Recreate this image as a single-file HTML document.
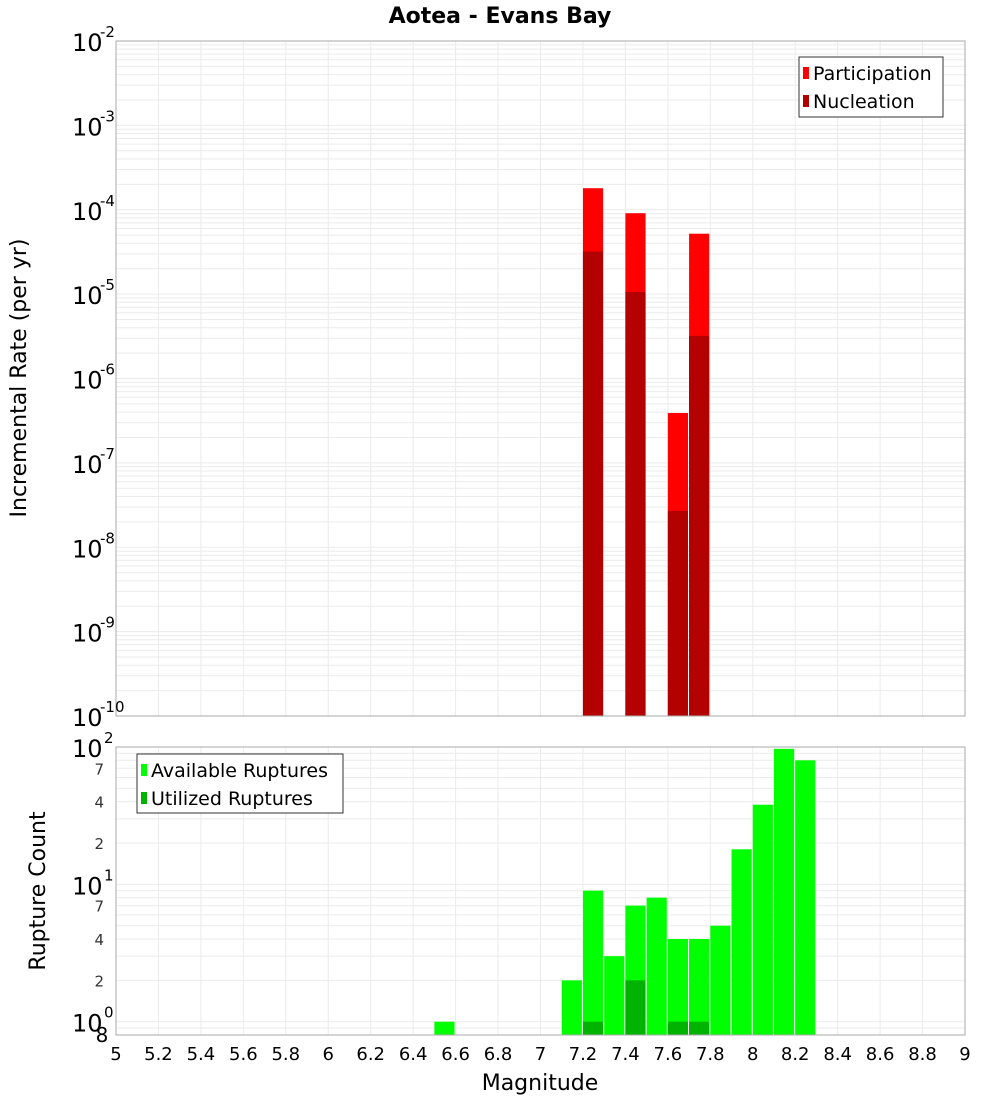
<!DOCTYPE html>
<html><head><meta charset="utf-8"><style>
body{margin:0;background:#fff;font-family:"Liberation Sans","DejaVu Sans",sans-serif}
svg text{font-family:"DejaVu Sans","Liberation Sans",sans-serif}
</style></head><body>
<svg id="chart" width="1000" height="1100" xmlns="http://www.w3.org/2000/svg">
<text x="500" y="23" text-anchor="middle" font-size="22" font-weight="bold">Aotea - Evans Bay</text>
<g id="topPlot"></g>
<g id="botPlot"></g>
<text transform="translate(26,378) rotate(-90)" text-anchor="middle" font-size="22">Incremental Rate (per yr)</text>
<text transform="translate(45,891) rotate(-90)" text-anchor="middle" font-size="22">Rupture Count</text>
<text x="540" y="1090" text-anchor="middle" font-size="22">Magnitude</text>
<g>
<rect x="799" y="57" width="144" height="60" fill="#fff" stroke="#333"/>
<rect x="803" y="67" width="6" height="12" fill="#ff0000"/>
<text x="813" y="80" font-size="19">Participation</text>
<rect x="803" y="95" width="6" height="12" fill="#b30000"/>
<text x="813" y="108" font-size="19">Nucleation</text>
</g>
<g>
<rect x="137" y="754" width="206" height="59" fill="#fff" stroke="#333"/>
<rect x="141" y="764" width="6" height="12" fill="#00ff00"/>
<text x="151" y="777" font-size="19">Available Ruptures</text>
<rect x="141" y="792" width="6" height="12" fill="#00b300"/>
<text x="151" y="805" font-size="19">Utilized Ruptures</text>
</g>
</svg>
<script>
const mags=[7.25,7.45,7.65,7.75];
const participation=[1.8e-4,9.1e-5,3.9e-7,5.2e-5];
const nucleation=[3.2e-5,1.06e-5,2.7e-8,3.2e-6];
const countMags=[6.55,7.15,7.25,7.35,7.45,7.55,7.65,7.75,7.85,7.95,8.05,8.15,8.25];
const available=[1,2,9,3,7,8,4,4,5,18,38,97,80];
const utilMags=[7.25,7.45,7.65,7.75];
const utilized=[1,2,1,1];
const xTicks=[5,5.2,5.4,5.6,5.8,6,6.2,6.4,6.6,6.8,7,7.2,7.4,7.6,7.8,8,8.2,8.4,8.6,8.8,9];
const rateExps=[-2,-3,-4,-5,-6,-7,-8,-9,-10];
const countMinor=[2,4,7,20,40,70];

const NS="http://www.w3.org/2000/svg";
const L=116,R=965;
const x=m=>L+(m-5)/4*(R-L);
const T1=41,B1=716;
const y1=v=>T1+(-2-Math.log10(v))/8*(B1-T1);
const T2=747,B2=1035;
const y2=v=>T2+(2-Math.log10(v))/(2-Math.log10(0.8))*(B2-T2);
function el(p,tag,a){const e=document.createElementNS(NS,tag);for(const k in a)e.setAttribute(k,a[k]);p.appendChild(e);return e;}
const topG=document.getElementById('topPlot'),botG=document.getElementById('botPlot');
for(let d=-10;d<-2;d++)for(let k=1;k<10;k++){const yy=y1(k*Math.pow(10,d));const l=el(topG,'line',{x1:L,x2:R,y1:yy,y2:yy,stroke:'#ebebeb'});

}
for(const t of xTicks){const l=el(topG,'line',{x1:x(t),x2:x(t),y1:T1,y2:B1,stroke:'#ebebeb'});


const l2=el(botG,'line',{x1:x(t),x2:x(t),y1:T2,y2:B2,stroke:'#ebebeb'});


const tx=el(botG,'text',{x:x(t),y:1060,'text-anchor':'middle','font-size':18});tx.textContent=String(t);

}
for(let d=-1;d<2;d++)for(let k=1;k<10;k++){const v=k*Math.pow(10,d);if(v<0.8)continue;const yy=y2(v);const l=el(botG,'line',{x1:L,x2:R,y1:yy,y2:yy,stroke:'#ebebeb'});

}
const bw=0.095;
mags.forEach((m,i)=>{
const a=el(topG,'rect',{x:x(m-0.05),y:y1(participation[i]),width:x(m-0.05+bw)-x(m-0.05),height:B1-y1(participation[i]),fill:'#ff0000'});


const b=el(topG,'rect',{x:x(m-0.05),y:y1(nucleation[i]),width:x(m-0.05+bw)-x(m-0.05),height:B1-y1(nucleation[i]),fill:'#b30000'});

});
countMags.forEach((m,i)=>{
const a=el(botG,'rect',{x:x(m-0.05),y:y2(available[i]),width:x(m-0.05+bw)-x(m-0.05),height:B2-y2(available[i]),fill:'#00ff00'});

});
utilMags.forEach((m,i)=>{
const a=el(botG,'rect',{x:x(m-0.05),y:y2(utilized[i]),width:x(m-0.05+bw)-x(m-0.05),height:B2-y2(utilized[i]),fill:'#00b300'});

});
el(topG,'rect',{x:L,y:T1,width:R-L,height:B1-T1,fill:'none',stroke:'#aaa'});
el(botG,'rect',{x:L,y:T2,width:R-L,height:B2-T2,fill:'none',stroke:'#aaa'});
rateExps.forEach(e=>{const yy=y1(Math.pow(10,e));const t=el(topG,'text',{x:72,y:yy+10,'font-size':24});t.textContent='10';


const s=el(topG,'text',{x:100,y:yy-4,'font-size':15});s.textContent=String(e);

});
[[100,'2'],[10,'1'],[1,'0']].forEach(([v,e])=>{const yy=y2(v);const t=el(botG,'text',{x:72,y:yy+10,'font-size':24});t.textContent='10';


const s=el(botG,'text',{x:104,y:yy-4,'font-size':15});s.textContent=e;

});
countMinor.forEach(v=>{const t=el(botG,'text',{x:104,y:y2(v)+6,'text-anchor':'end','font-size':15,fill:'#333'});t.textContent=String(v).charAt(0);

});
const e8=el(botG,'text',{x:102,y:1042,'text-anchor':'middle','font-size':20});e8.textContent='8';


</script>
</body></html>
